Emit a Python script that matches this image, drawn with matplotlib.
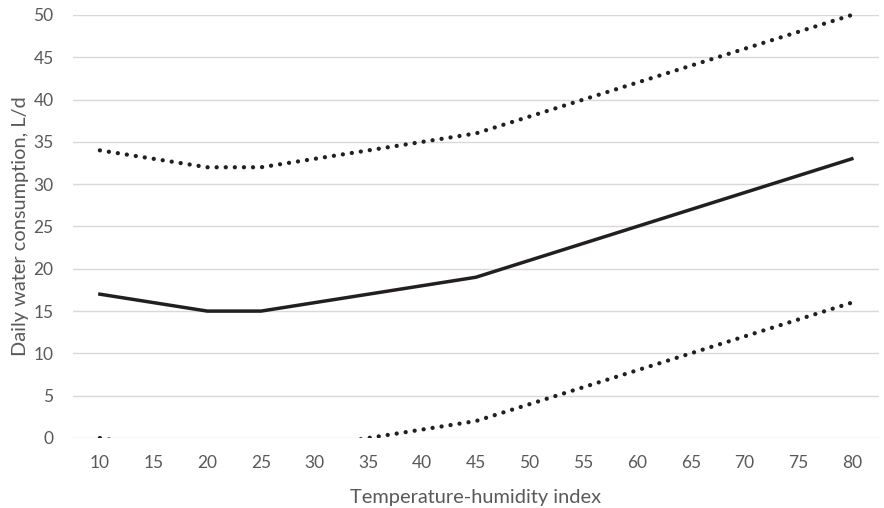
import numpy as np
import matplotlib.pyplot as plt

# -- data --
thi = [10, 15, 20, 25, 30, 35, 40, 45, 50, 55, 60, 65, 70, 75, 80]
mean_water = [17, 16, 15, 15, 16, 17, 18, 19, 21, 23, 25, 27, 29, 31, 33]
upper_water = [34, 33, 32, 32, 33, 34, 35, 36, 38, 40, 42, 44, 46, 48, 50]
lower_water = [0, -1, -2, -2, -1, 0, 1, 2, 4, 6, 8, 10, 12, 14, 16]
y_ticks = [0, 5, 10, 15, 20, 25, 30, 35, 40, 45, 50]


def main():
    plt.rcParams['font.family'] = ['Lato', 'DejaVu Sans']
    gray = '#595959'
    ink = '#231f20'

    fig = plt.figure(figsize=(8.84, 5.08), dpi=100)
    ax = fig.add_axes([0.0826, 0.1378, 0.9114, 0.8327])

    x = np.arange(len(thi))
    dotted = (0, (0.01, 2.1))
    ax.plot(x, upper_water, color=ink, lw=3.1, ls=dotted,
            dash_capstyle='round', clip_on=False, zorder=3)
    ax.plot(x, lower_water, color=ink, lw=3.1, ls=dotted,
            dash_capstyle='round', zorder=3)
    ax.plot(x, mean_water, color=ink, lw=2.5, solid_joinstyle='round',
            clip_on=False, zorder=3)

    ax.set_xlim(-0.5, len(thi) - 0.5)
    ax.set_ylim(0, 50)
    ax.set_xticks(x)
    ax.set_xticklabels([str(v) for v in thi])
    ax.set_yticks(y_ticks)

    ax.grid(axis='y', color='#d9d9d9', lw=1.0)
    ax.set_axisbelow(True)
    for s in ax.spines.values():
        s.set_visible(False)
    ax.tick_params(length=0, colors=gray, labelsize=12.5)
    ax.tick_params(axis='x', pad=12)
    ax.tick_params(axis='y', pad=14)

    ax.set_xlabel('Temperature-humidity index', color=gray, fontsize=14.4, labelpad=13)
    ax.set_ylabel('Daily water consumption, L/d', color=gray, fontsize=14.4, labelpad=3)

    plt.savefig('out.png', dpi=100)
    plt.close('all')


if __name__ == '__main__':
    main()
